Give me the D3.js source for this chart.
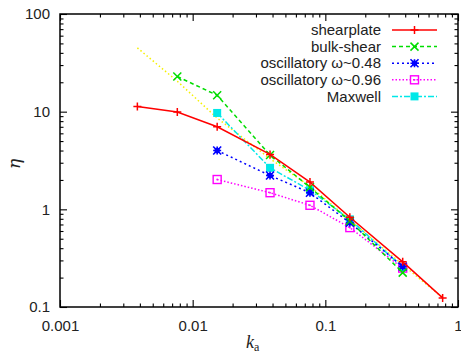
<!DOCTYPE html>
<html>
<head>
<meta charset="utf-8">
<script src="https://cdn.jsdelivr.net/npm/d3@7"></script>
<style>
  body { margin: 0; background: #fff; }
  svg { display: block; font-family: "Liberation Sans", Arial, sans-serif; }
</style>
</head>
<body>
<div id="chart"></div>
<script>
// k_a values shared by every run
const ka = [0.00383, 0.00766, 0.0153, 0.0383, 0.0766, 0.153, 0.383, 0.766];

const shearplate = [11.3, 9.9, 7.0, 3.65, 1.9, 0.83, 0.29, 0.124];
const bulkShear = [null, 22.9, 14.7, 3.6, 1.68, 0.76, 0.225, null];
const osc048 = [null, null, 4.0, 2.22, 1.48, 0.73, 0.26, null];
const osc096 = [null, null, 2.02, 1.48, 1.1, 0.65, 0.25, null];
const maxwell = [null, null, 9.7, 2.66, 1.57, 0.79, 0.255, null];
const fitLine = [45, 20.5, 8.6, 3.3, 1.72, 0.78, 0.27, 0.125];

const xTicks = [0.001, 0.01, 0.1, 1];
const yTicks = [0.1, 1, 10, 100];

const series = [
  { name: 'shearplate', values: shearplate, color: '#ff0000', dash: null, marker: 'plus' },
  { name: 'bulk-shear', values: bulkShear, color: '#00dd00', dash: '4,3', marker: 'cross' },
  { name: 'oscillatory ω~0.48', values: osc048, color: '#0000ff', dash: '2,3', marker: 'star' },
  { name: 'oscillatory ω~0.96', values: osc096, color: '#ff00ff', dash: '1.5,2', marker: 'box' },
  { name: 'Maxwell', values: maxwell, color: '#00e8e8', dash: '6,2,2,2', marker: 'fbox' },
  { name: null, values: fitLine, color: '#f5f000', dash: '1.5,2.5', marker: null }
];

const W = 461, H = 356;
const mLeft = 60, mRight = 458, mTop = 14, mBottom = 307;

const svg = d3.select('#chart').append('svg')
  .attr('width', W).attr('height', H);

const x = d3.scaleLog().domain([0.001, 1]).range([mLeft, mRight]);
const y = d3.scaleLog().domain([0.1, 100]).range([mBottom, mTop]);

function minors(domain) {
  const out = [];
  for (let e = Math.round(Math.log10(domain[0])); e < Math.round(Math.log10(domain[1])); e++) {
    for (let m = 2; m <= 9; m++) out.push(m * Math.pow(10, e));
  }
  return out;
}

function addAxis(axisFn, scale, majors, pos, transform, labels) {
  const g = svg.append('g').attr('transform', transform);
  g.call(axisFn(scale).tickValues(minors(scale.domain())).tickSize(-3.5).tickFormat(''));
  g.select('.domain').remove();
  const g2 = svg.append('g').attr('transform', transform);
  g2.call(axisFn(scale).tickValues(majors).tickSize(-7)
    .tickPadding(pos === 'bottom' ? 13 : 10)
    .tickFormat(labels ? d3.format('~g') : ''));
  g2.select('.domain').remove();
  g2.selectAll('text').attr('font-size', 15).attr('fill', '#222')
    .attr('font-family', '"Liberation Sans", Arial, sans-serif');
  svg.selectAll('.tick line').attr('stroke', '#000').attr('stroke-width', 1.1);
}

addAxis(d3.axisBottom, x, xTicks, 'bottom', `translate(0,${mBottom})`, true);
addAxis(d3.axisTop, x, xTicks, 'top', `translate(0,${mTop})`, false);
addAxis(d3.axisLeft, y, yTicks, 'left', `translate(${mLeft},0)`, true);
addAxis(d3.axisRight, y, yTicks, 'right', `translate(${mRight},0)`, false);

// frame
svg.append('rect')
  .attr('x', mLeft).attr('y', mTop)
  .attr('width', mRight - mLeft).attr('height', mBottom - mTop)
  .attr('fill', 'none').attr('stroke', '#000').attr('stroke-width', 1.5);

function drawMarker(g, type, cx, cy, color) {
  const s = 4;
  if (type === 'plus') {
    g.append('path').attr('d', `M${cx - s},${cy}H${cx + s}M${cx},${cy - s}V${cy + s}`)
      .attr('stroke', color).attr('stroke-width', 1.5);
  } else if (type === 'cross') {
    g.append('path').attr('d', `M${cx - s},${cy - s}L${cx + s},${cy + s}M${cx - s},${cy + s}L${cx + s},${cy - s}`)
      .attr('stroke', color).attr('stroke-width', 1.5);
  } else if (type === 'star') {
    g.append('path').attr('d', `M${cx - s},${cy}H${cx + s}M${cx},${cy - s}V${cy + s}M${cx - s},${cy - s}L${cx + s},${cy + s}M${cx - s},${cy + s}L${cx + s},${cy - s}`)
      .attr('stroke', color).attr('stroke-width', 1.6);
    g.append('rect').attr('x', cx - 2.5).attr('y', cy - 2.5).attr('width', 5).attr('height', 5).attr('fill', color);
  } else if (type === 'box') {
    g.append('rect').attr('x', cx - s).attr('y', cy - s).attr('width', 2 * s).attr('height', 2 * s)
      .attr('fill', 'none').attr('stroke', color).attr('stroke-width', 1.4);
    g.append('rect').attr('x', cx - 0.8).attr('y', cy - 0.8).attr('width', 1.6).attr('height', 1.6).attr('fill', color);
  } else if (type === 'fbox') {
    g.append('rect').attr('x', cx - s).attr('y', cy - s).attr('width', 2 * s).attr('height', 2 * s)
      .attr('fill', color);
  }
}

const line = d3.line()
  .defined(d => d[1] != null)
  .x(d => x(d[0]))
  .y(d => y(d[1]));

const plot = svg.append('g');
// draw back-to-front so red ends up on top
series.slice().reverse().forEach(s => {
  const pts = ka.map((k, i) => [k, s.values[i]]).filter(d => d[1] != null);
  plot.append('path').datum(pts)
    .attr('d', line)
    .attr('fill', 'none')
    .attr('stroke', s.color)
    .attr('stroke-width', 1.5)
    .attr('stroke-dasharray', s.dash);
  if (s.marker) {
    const mg = plot.append('g');
    pts.forEach(d => drawMarker(mg, s.marker, x(d[0]), y(d[1]), s.color));
  }
});

// legend
const legend = svg.append('g');
const named = series.filter(s => s.name);
named.forEach((s, i) => {
  const ly = 30 + i * 16.6;
  legend.append('text')
    .attr('x', 381).attr('y', ly).attr('dy', '0.35em')
    .attr('text-anchor', 'end')
    .attr('font-size', 15).attr('fill', '#222')
    .text(s.name);
  legend.append('line')
    .attr('x1', 392).attr('x2', 437).attr('y1', ly).attr('y2', ly)
    .attr('stroke', s.color).attr('stroke-width', 1.5)
    .attr('stroke-dasharray', s.dash);
  drawMarker(legend, s.marker, 414.5, ly, s.color);
});

// axis titles
svg.append('text')
  .attr('transform', 'translate(20,164) rotate(-90)')
  .attr('text-anchor', 'middle')
  .attr('font-family', '"DejaVu Serif", "Liberation Serif", serif')
  .attr('font-style', 'italic')
  .attr('font-size', 17).attr('fill', '#222')
  .text('η');

const xl = svg.append('text')
  .attr('x', 246).attr('y', 348)
  .attr('font-family', '"Liberation Serif", "DejaVu Serif", serif')
  .attr('font-size', 18).attr('fill', '#222');
xl.append('tspan').attr('font-style', 'italic').text('k');
xl.append('tspan').attr('font-size', 12).attr('dy', 3).text('a');
</script>
</body>
</html>
